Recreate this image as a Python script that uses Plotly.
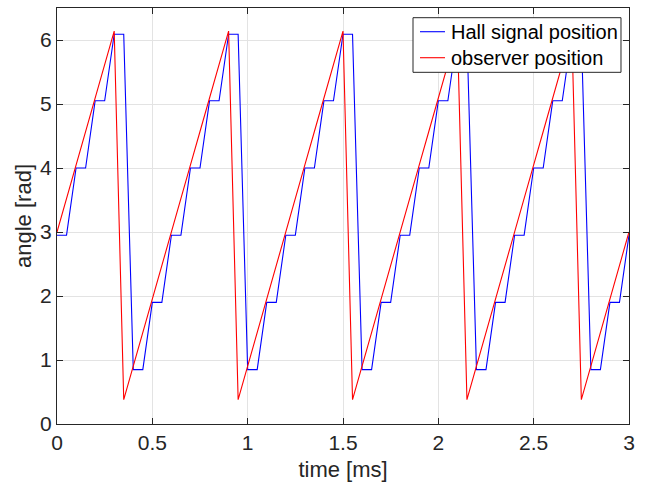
import plotly.graph_objects as go

# time samples [ms]
time_ms = [0.00, 0.05, 0.10, 0.15, 0.20, 0.25, 0.30, 0.35, 0.40, 0.45, 0.50, 0.55,
           0.60, 0.65, 0.70, 0.75, 0.80, 0.85, 0.90, 0.95, 1.00, 1.05, 1.10, 1.15,
           1.20, 1.25, 1.30, 1.35, 1.40, 1.45, 1.50, 1.55, 1.60, 1.65, 1.70, 1.75,
           1.80, 1.85, 1.90, 1.95, 2.00, 2.05, 2.10, 2.15, 2.20, 2.25, 2.30, 2.35,
           2.40, 2.45, 2.50, 2.55, 2.60, 2.65, 2.70, 2.75, 2.80, 2.85, 2.90, 2.95,
           3.00]

# Hall signal position [rad]
hall_position = [2.95, 2.95, 4.00, 4.00, 5.05, 5.05, 6.09, 6.09, 0.85, 0.85, 1.90, 1.90,
                 2.95, 2.95, 4.00, 4.00, 5.05, 5.05, 6.09, 6.09, 0.85, 0.85, 1.90, 1.90,
                 2.95, 2.95, 4.00, 4.00, 5.05, 5.05, 6.09, 6.09, 0.85, 0.85, 1.90, 1.90,
                 2.95, 2.95, 4.00, 4.00, 5.05, 5.05, 6.09, 6.09, 0.85, 0.85, 1.90, 1.90,
                 2.95, 2.95, 4.00, 4.00, 5.05, 5.05, 6.09, 6.09, 0.85, 0.85, 1.90, 1.90,
                 2.95]

# observer position [rad]
observer_position = [3.00, 3.52, 4.05, 4.57, 5.09, 5.62, 6.14, 0.38, 0.91, 1.43, 1.95, 2.48,
                     3.00, 3.52, 4.05, 4.57, 5.09, 5.62, 6.14, 0.38, 0.91, 1.43, 1.95, 2.48,
                     3.00, 3.52, 4.05, 4.57, 5.09, 5.62, 6.14, 0.38, 0.91, 1.43, 1.95, 2.48,
                     3.00, 3.52, 4.05, 4.57, 5.09, 5.62, 6.14, 0.38, 0.91, 1.43, 1.95, 2.48,
                     3.00, 3.52, 4.05, 4.57, 5.09, 5.62, 6.14, 0.38, 0.91, 1.43, 1.95, 2.48,
                     3.00]

series_names = ["Hall signal position", "observer position"]
series_colors = ["#0000FF", "#FF0000"]

x_tick_vals = [0, 0.5, 1, 1.5, 2, 2.5, 3]
x_tick_text = ["0", "0.5", "1", "1.5", "2", "2.5", "3"]
y_tick_vals = [0, 1, 2, 3, 4, 5, 6]
y_tick_text = ["0", "1", "2", "3", "4", "5", "6"]

FONT = "Liberation Sans, Arial, Helvetica, sans-serif"
AX = "#262626"

fig = go.Figure()
for yv, nm, col in zip([hall_position, observer_position], series_names, series_colors):
    fig.add_trace(go.Scatter(x=time_ms, y=yv, mode="lines", name=nm,
                             line=dict(color=col, width=1.1)))

axis_common = dict(showline=True, linecolor=AX, linewidth=1, mirror="ticks",
                   ticks="inside", ticklen=6, tickcolor=AX, tickwidth=1,
                   showgrid=True, gridcolor="#e3e3e3", gridwidth=1,
                   zeroline=False, tickfont=dict(family=FONT, size=21, color=AX))

fig.update_xaxes(range=[0, 3], tickvals=x_tick_vals, ticktext=x_tick_text,
                 title=dict(text="time [ms]", font=dict(family=FONT, size=22, color=AX),
                            standoff=8),
                 **axis_common)
fig.update_yaxes(range=[0, 6.5], tickvals=y_tick_vals, ticktext=y_tick_text,
                 title=dict(text="angle [rad]", font=dict(family=FONT, size=22, color=AX),
                            standoff=2),
                 **axis_common)

# legend box drawn in paper coordinates (MATLAB-style)
box_x0, box_x1, box_y0, box_y1 = 0.6224, 0.986, 0.8454, 0.9767
row_y = [0.943, 0.8805]
line_x0, line_x1, text_x = 0.6346, 0.6783, 0.6853

shapes = [dict(type="rect", xref="paper", yref="paper", x0=box_x0, x1=box_x1,
               y0=box_y0, y1=box_y1, fillcolor="white",
               line=dict(color=AX, width=1), layer="above")]
annotations = []
for ry, nm, col in zip(row_y, series_names, series_colors):
    shapes.append(dict(type="line", xref="paper", yref="paper", x0=line_x0, x1=line_x1,
                       y0=ry, y1=ry, line=dict(color=col, width=1.1), layer="above"))
    annotations.append(dict(xref="paper", yref="paper", x=text_x, y=ry, text=nm,
                            showarrow=False, xanchor="left", yanchor="middle",
                            font=dict(family=FONT, size=20, color="#000000")))

fig.update_layout(
    width=651, height=491,
    margin=dict(l=57, r=22, t=8, b=67),
    paper_bgcolor="white", plot_bgcolor="white",
    showlegend=False,
    shapes=shapes, annotations=annotations,
)

fig.write_html("out.html")
